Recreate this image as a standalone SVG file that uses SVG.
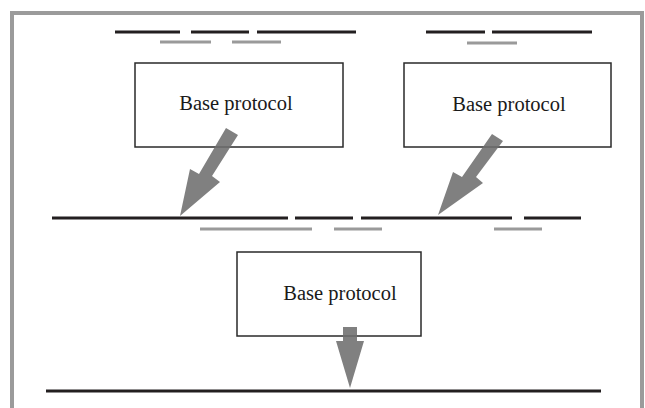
<svg xmlns="http://www.w3.org/2000/svg" width="645" height="408" viewBox="0 0 645 408">
<style>
.frame{fill:none;stroke:#9b9b9b;stroke-width:4}
.box rect{fill:#fff;stroke:#2a2a2a;stroke-width:1.5}
.box text{font-family:"Liberation Serif","Times New Roman",serif;font-size:20.5px;fill:#1a1a1a;text-anchor:middle}
.blk{stroke:#231f20;stroke-width:3;fill:none}
.gry{stroke:#9a9a9a;stroke-width:3;fill:none}
.arrow{fill:#6e6e6e;fill-opacity:0.88}
</style>
<rect class="frame" x="12" y="13" width="630" height="420"/>
<g id="segments">
<line class="blk" x1="115" y1="32" x2="180" y2="32"/>
<line class="blk" x1="191" y1="32" x2="249" y2="32"/>
<line class="blk" x1="257" y1="32" x2="356" y2="32"/>
<line class="gry" x1="160" y1="42" x2="211" y2="42"/>
<line class="gry" x1="232" y1="42" x2="281" y2="42"/>
<line class="blk" x1="426" y1="32" x2="485" y2="32"/>
<line class="blk" x1="492" y1="32" x2="592" y2="32"/>
<line class="gry" x1="467" y1="43" x2="517" y2="43"/>
<line class="blk" x1="52" y1="218" x2="288" y2="218"/>
<line class="blk" x1="295" y1="218" x2="353" y2="218"/>
<line class="blk" x1="361" y1="218" x2="512" y2="218"/>
<line class="blk" x1="524" y1="218" x2="581" y2="218"/>
<line class="gry" x1="200" y1="229" x2="312" y2="229"/>
<line class="gry" x1="334" y1="229" x2="382" y2="229"/>
<line class="gry" x1="494" y1="229" x2="542" y2="229"/>
<line class="blk" x1="46" y1="391" x2="601" y2="391"/>
</g>
<g id="node1" class="box">
<rect x="135" y="63" width="208" height="84"/>
<text x="236" y="110">Base protocol</text>
</g>
<g id="node2" class="box">
<rect x="404" y="63" width="207" height="84"/>
<text x="509" y="111">Base protocol</text>
</g>
<g id="node3" class="box">
<rect x="237" y="252" width="184" height="84"/>
<text x="340" y="300">Base protocol</text>
</g>
<g id="connectors">
<polygon class="arrow" points="226,128 238,135 212,176 220,182 180,216 190,169 199,174"/>
<polygon class="arrow" points="492,134 503,141 476,177 483,183 438,215 453,172 462,177"/>
<polygon class="arrow" points="343,327 357,327 357,341 364,341 350,388 336,341 343,341"/>
</g>
</svg>
